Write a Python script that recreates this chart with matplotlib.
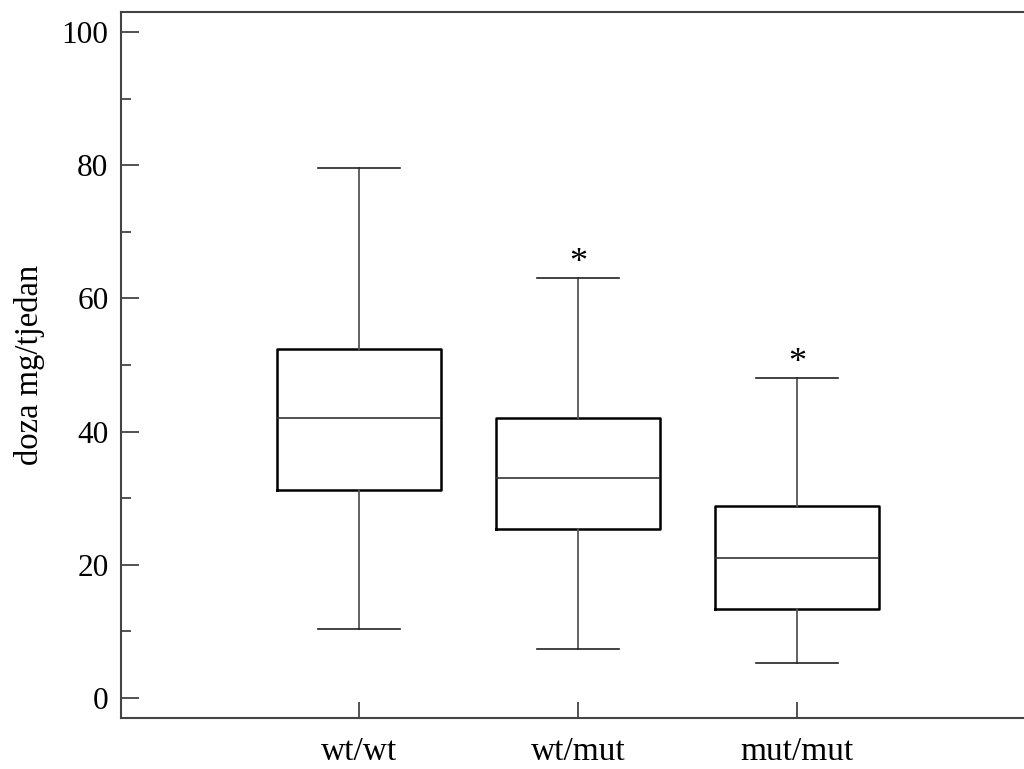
import matplotlib
matplotlib.use("Agg")
import matplotlib.pyplot as plt

# values
groups = ["wt/wt", "wt/mut", "mut/mut"]
whislo = [10.3, 7.4, 5.3]
q1 = [31.3, 25.4, 13.4]
med = [42.0, 33.0, 21.0]
q3 = [52.4, 42.0, 28.8]
whishi = [79.6, 63.0, 48.0]
starred = [False, True, True]

plt.rcParams['font.family'] = ['Liberation Serif', 'DejaVu Serif']

fig = plt.figure(figsize=(10.24, 7.69), dpi=100)
ax = fig.add_axes([121 / 1024, 51 / 769, 915 / 1024, 706 / 769])

stats = []
for i, g in enumerate(groups):
    stats.append(dict(label=g, whislo=whislo[i], q1=q1[i], med=med[i],
                      q3=q3[i], whishi=whishi[i], fliers=[]))

pos = [1, 2, 3]
ax.bxp(stats, positions=pos, widths=0.75, capwidths=0.375, showfliers=False,
       boxprops=dict(color='black', linewidth=1.8),
       medianprops=dict(color='#333333', linewidth=1.2),
       whiskerprops=dict(color='#555555', linewidth=1.3),
       capprops=dict(color='#222222', linewidth=1.2))

for i, s in enumerate(starred):
    if s:
        ax.annotate('*', xy=(pos[i], whishi[i]), xytext=(0, -1),
                    textcoords='offset points', ha='center', va='bottom',
                    fontsize=26)

x0 = 1 - (359 - 121) / 219
x1 = x0 + 915 / 219
ax.set_xlim(x0, x1)
ax.set_ylim(-3.0, 103.0)

ax.set_yticks([0, 20, 40, 60, 80, 100])
ax.set_yticks([10, 30, 50, 70, 90], minor=True)
ax.tick_params(axis='y', which='major', direction='in', length=13, width=1.3,
               color='#444444', labelsize=22.5, pad=9)
ax.tick_params(axis='y', which='minor', direction='in', length=7, width=1.3,
               color='#444444')
ax.tick_params(axis='x', direction='in', length=11.5, width=1.3,
               color='#444444', labelsize=24, pad=13)

for side in ['left', 'bottom', 'top']:
    ax.spines[side].set_color('#444444')
    ax.spines[side].set_linewidth(1.5)
ax.spines['right'].set_visible(False)

ax.set_ylabel('doza mg/tjedan', fontsize=23.5, labelpad=12)

fig.savefig('out.png', dpi=100)
